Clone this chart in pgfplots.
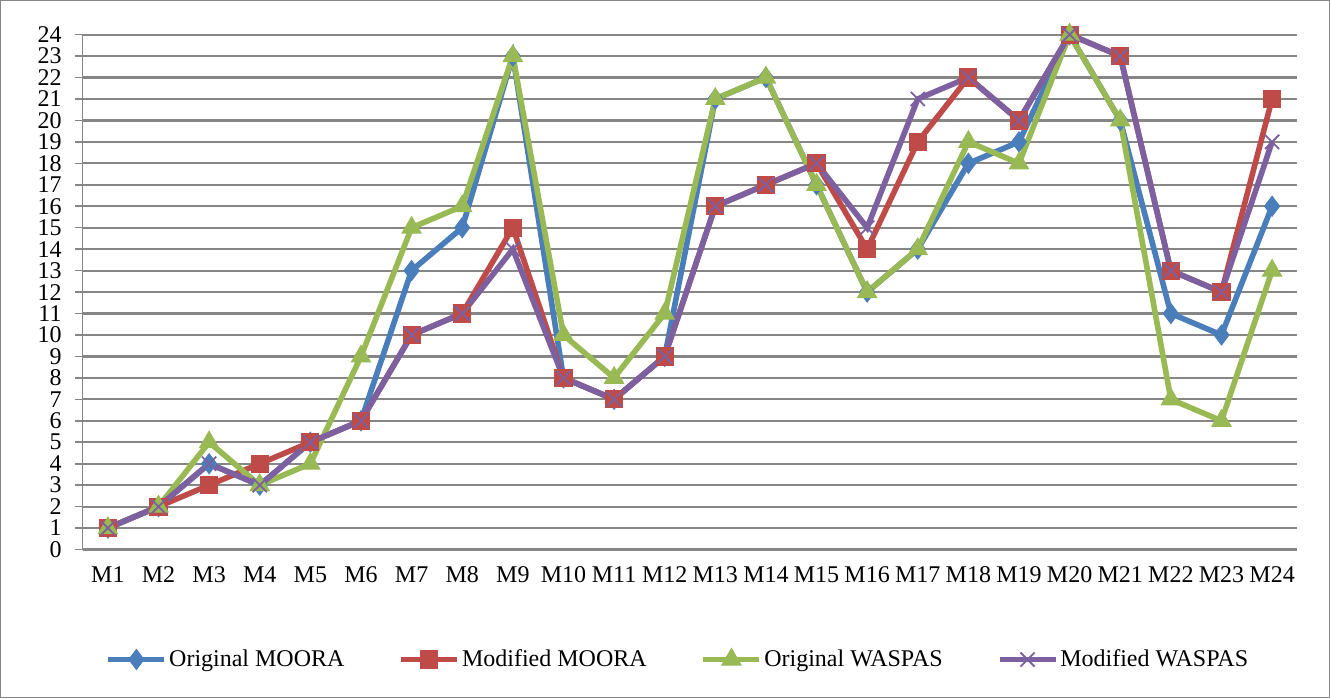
\documentclass[border=0pt]{standalone}
\usepackage{fontspec}
\setmainfont{Liberation Serif}
\usepackage{pgfplots}
\usepackage{pgfplotstable}
\pgfplotsset{compat=1.18}
\definecolor{cblue}{HTML}{4A7EBB}
\definecolor{cred}{HTML}{BE4B48}
\definecolor{cgreen}{HTML}{98B954}
\definecolor{cpurple}{HTML}{7D60A0}
\definecolor{gridc}{HTML}{868686}
\pgfplotstableread{
x a b c d
1 1 1 1 1
2 2 2 2 2
3 4 3 5 4
4 3 4 3 3
5 5 5 4 5
6 6 6 9 6
7 13 10 15 10
8 15 11 16 11
9 23 15 23 14
10 8 8 10 8
11 7 7 8 7
12 9 9 11 9
13 21 16 21 16
14 22 17 22 17
15 17 18 17 18
16 12 14 12 15
17 14 19 14 21
18 18 22 19 22
19 19 20 18 20
20 24 24 24 24
21 20 23 20 23
22 11 13 7 13
23 10 12 6 12
24 16 21 13 19
}\datatable
\begin{document}
\begin{tikzpicture}
\begin{axis}[at={(0,0)}, anchor=south west, scale only axis,
  width=607.5pt, height=257.5pt,
  xmin=0.5, xmax=24.5, ymin=0, ymax=24,
  xtick={1,...,24},
  xticklabels={M1,M2,M3,M4,M5,M6,M7,M8,M9,M10,M11,M12,M13,M14,M15,M16,M17,M18,M19,M20,M21,M22,M23,M24},
  minor xtick={0.5,1.5,...,24.5},
  ytick={0,1,...,24},
  tick align=outside,
  major tick length=4pt, minor tick length=4pt,
  xtick style={draw=none},
  minor x tick style={gridc, line width=0.8pt},
  ytick style={gridc, line width=0.8pt},
  ymajorgrids, major grid style={gridc, line width=1.1pt},
  axis x line*=bottom, axis y line*=left,
  axis line style={gridc, line width=0.9pt, -},
  tick label style={font=\fontsize{12}{12}\selectfont},
  /pgf/number format/assume math mode=true,
  xticklabel style={yshift=-1pt},
  yticklabel style={xshift=-3pt},
  clip=false,
  legend columns=4,
  legend style={at={(0.49,-0.2136)}, anchor=center, draw=none, fill=none,
    font=\fontsize{12}{12}\selectfont,
    nodes={inner xsep=1pt},
    /tikz/every even column/.append style={column sep=26pt}},
  legend image code/.code={\draw[mark repeat=2,mark phase=2] plot coordinates {(0pt,0pt)(14pt,0pt)(28pt,0pt)};},
]
\addplot[cblue, line width=2.8pt, mark=diamond*, mark size=5pt, mark options={solid, line width=0.5pt}] table[x=x,y=a]{\datatable};
\addlegendentry{Original MOORA}
\addplot[cred, line width=2.8pt, mark=square*, mark size=4.3pt, mark options={solid, line width=0.5pt}] table[x=x,y=b]{\datatable};
\addlegendentry{Modified MOORA}
\addplot[cgreen, line width=2.8pt, mark=triangle*, mark size=5.5pt, mark options={solid, line width=0.5pt}] table[x=x,y=c]{\datatable};
\addlegendentry{Original WASPAS}
\addplot[cpurple, line width=2.8pt, mark=x, mark size=5pt, mark options={solid, line width=0.9pt}] table[x=x,y=d]{\datatable};
\addlegendentry{Modified WASPAS}
\end{axis}
\draw[gridc, line width=0.6pt] (-41pt,-74pt) rectangle (623.5pt,274.5pt);
\end{tikzpicture}
\end{document}
